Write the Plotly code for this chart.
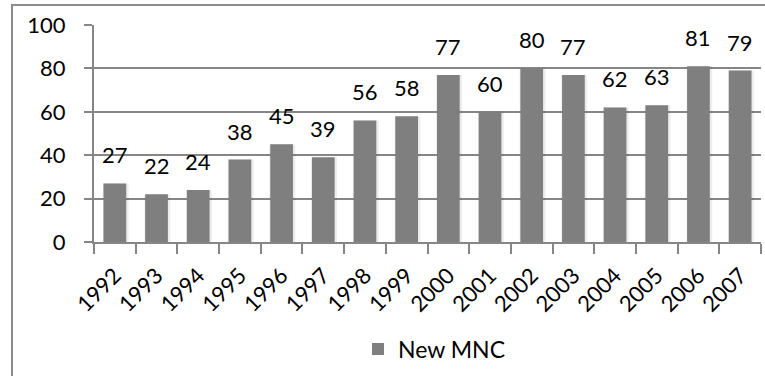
import plotly.graph_objects as go

# Number of new multinational companies per year
years = ["1992", "1993", "1994", "1995", "1996", "1997", "1998", "1999",
         "2000", "2001", "2002", "2003", "2004", "2005", "2006", "2007"]
new_mnc = [27, 22, 24, 38, 45, 39, 56, 58, 77, 60, 80, 77, 62, 63, 81, 79]
y_ticks = [0, 20, 40, 60, 80, 100]

FONT = "Lato, 'Open Sans', sans-serif"
GRID = "#868686"
BAR = "#7f7f7f"

W, H = 765, 376
ML, MR, MT, MB = 94, 4, 25, 134
pw, ph = W - ML - MR, H - MT - MB

fig = go.Figure()

# soft halo behind each bar
fig.add_trace(go.Bar(
    x=years, y=new_mnc, width=0.62, offset=-0.29,
    marker=dict(color="rgba(0,0,0,0.07)", line=dict(width=0)),
    showlegend=False, hoverinfo="skip",
))
fig.add_trace(go.Bar(
    x=years, y=new_mnc, width=0.545, name="New MNC",
    marker=dict(color=BAR, line=dict(width=0)),
))

# value labels above the bars (category axis: position by index)
for i, v in enumerate(new_mnc):
    fig.add_annotation(
        x=i, y=v, text=str(v), showarrow=False,
        yanchor="bottom", yshift=13,
        font=dict(family=FONT, size=22, color="black"),
    )

# outer chart frame
fig.add_shape(
    type="rect", xref="paper", yref="paper",
    x0=(12 - ML) / pw, x1=(W + 10 - ML) / pw,
    y0=-(H + 10 - MT - ph) / ph, y1=1 + (MT - 5) / ph,
    line=dict(color="#8c8c8c", width=2), layer="below",
)

fig.update_layout(
    width=W, height=H,
    margin=dict(l=ML, r=MR, t=MT, b=MB),
    paper_bgcolor="white", plot_bgcolor="white",
    barmode="overlay",
    font=dict(family=FONT, size=22, color="black"),
    showlegend=True,
    legend=dict(
        x=(358 - ML) / pw, y=(H - MB - 349) / ph,
        xanchor="left", yanchor="middle",
        orientation="h", font=dict(size=23),
        bgcolor="rgba(0,0,0,0)",
    ),
    xaxis=dict(
        type="category", tickangle=-45,
        range=[-0.5, len(years) - 0.5],
        showline=True, linecolor=GRID, linewidth=2,
        ticks="outside", ticklen=10, tickcolor=GRID, tickwidth=2,
        tickson="boundaries", showgrid=False,
        ticklabelstandoff=10,
        tickfont=dict(size=22),
    ),
    yaxis=dict(
        range=[0, 100], tickvals=y_ticks,
        showline=True, linecolor=GRID, linewidth=2,
        ticks="outside", ticklen=8, tickcolor=GRID, tickwidth=2,
        showgrid=True, gridcolor=GRID, gridwidth=2,
        zeroline=False, ticklabelstandoff=14,
        tickfont=dict(size=22),
    ),
)

fig.write_html("out.html")
